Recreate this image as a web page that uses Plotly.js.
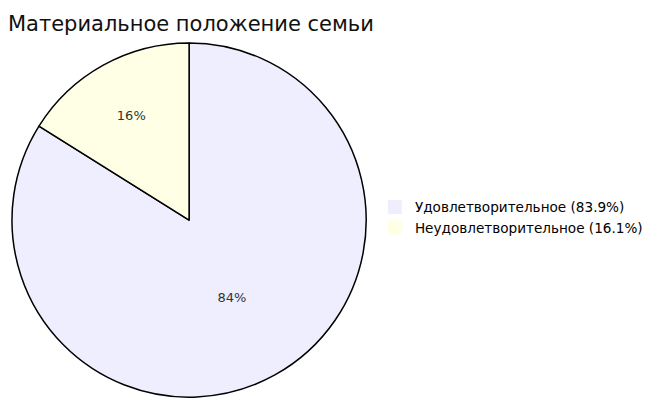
<!DOCTYPE html>
<html><head><meta charset="utf-8">
<script src="https://cdn.plot.ly/plotly-3.0.1.min.js"></script>
<style>body{margin:0;background:#fff}#c{width:660px;height:409px}</style>
</head><body><div id="c"></div>
<script>
const labels = ['Удовлетворительное (83.9%)', 'Неудовлетворительное (16.1%)'];
const values = [83.9, 16.1];
const colors = ['#EEEEFF', '#FFFFE6'];
const FONT = 'DejaVu Sans, Verdana, sans-serif';
const traces = [{
  type: 'pie', labels: labels, values: values, sort: false, direction: 'clockwise', rotation: 0,
  marker: {colors: colors, line: {color: '#000', width: 1.5}},
  textinfo: 'percent', texttemplate: '%{percent:.0%}', textposition: 'inside',
  insidetextorientation: 'horizontal',
  textfont: {family: FONT, size: 13, color: '#333'},
  domain: {x: [0.018, 0.555], y: [0.029, 0.895]},
  hoverinfo: 'none', showlegend: false
}];
labels.forEach((l, i) => traces.push({
  type: 'scatter', mode: 'markers', x: [null], y: [null], name: l,
  marker: {symbol: 'square', size: 14, color: colors[i], line: {width: 0}},
  showlegend: true, hoverinfo: 'none'
}));
Plotly.newPlot('c', traces, {
  width: 660, height: 409, margin: {l: 0, r: 0, t: 0, b: 0},
  paper_bgcolor: '#fff', plot_bgcolor: 'rgba(0,0,0,0)',
  xaxis: {visible: false}, yaxis: {visible: false},
  font: {family: FONT, color: '#000'},
  title: {text: 'Материальное положение семьи', x: 0.012, xanchor: 'left', y: 0.943, yanchor: 'middle',
    font: {family: FONT, size: 21, color: '#111'}},
  showlegend: true,
  legend: {x: 0.568, y: 0.468, xanchor: 'left', yanchor: 'middle', font: {family: FONT, size: 13.6, color: '#000'},
    itemwidth: 30, tracegroupgap: 0, bgcolor: 'rgba(0,0,0,0)'}
}, {displayModeBar: false, staticPlot: true});
</script></body></html>
